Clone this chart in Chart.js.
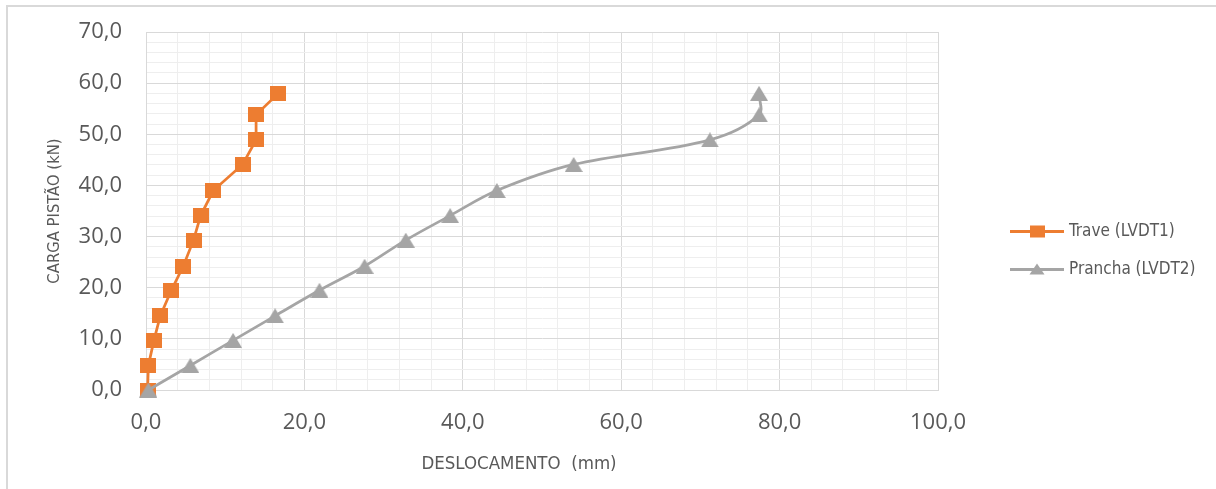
<!DOCTYPE html>
<html>
<head>
<meta charset="utf-8">
<script src="https://cdn.jsdelivr.net/npm/chart.js@4.4.1/dist/chart.umd.min.js"></script>
<style>
  html, body { margin: 0; padding: 0; background: #fff; overflow: hidden; }
  #wrap { position: relative; width: 1216px; height: 489px; overflow: hidden; }
  #wrap canvas { position: absolute; left: 0; top: 0; }
  #frame { position: absolute; left: 6px; top: 5px; width: 1240px; height: 520px;
           border: 2px solid #d9d9d9; box-sizing: border-box; pointer-events: none; }
</style>
</head>
<body>
<div id="wrap">
  <canvas id="grafico" width="1216" height="489"></canvas>
  <div id="frame"></div>
</div>
<script>
// Load steps applied by the piston (kN), shared by both LVDT readings
const cargas = [0.0, 4.8, 9.7, 14.5, 19.5, 24.2, 29.3, 34.1, 39.0, 44.1, 48.9, 53.8, 58.0];
// Displacement of the beam (LVDT1), mm
const traveDesloc = [0.2, 0.3, 1.0, 1.8, 3.2, 4.7, 6.0, 6.9, 8.5, 12.2, 13.9, 13.9, 16.7];
// Displacement of the plank (LVDT2), mm
const pranchaDesloc = [0.3, 5.6, 11.0, 16.3, 21.9, 27.6, 32.8, 38.4, 44.3, 54.0, 71.2, 77.4, 77.4];

const seriesNames = ['Trave (LVDT1)', 'Prancha (LVDT2)'];
const xTickLabels = ['0,0', '20,0', '40,0', '60,0', '80,0', '100,0'];
const yTickLabels = ['0,0', '10,0', '20,0', '30,0', '40,0', '50,0', '60,0', '70,0'];
const xTitle = 'DESLOCAMENTO  (mm)';
const yTitle = 'CARGA PISTÃO (kN)';

const COR_TRAVE = '#ED7D31';
const COR_PRANCHA = '#A5A5A5';
const TEXTO = '#595959';
const GRADE_MAIOR = '#d9d9d9';
const GRADE_MENOR = '#eeeeee';
const FONTE_TITULO = '"Liberation Sans Narrow", "DejaVu Sans Condensed", sans-serif';

// Marker sprites, centred on their bounding box
function marcador(tipo, cor, w, h) {
  const c = document.createElement('canvas');
  c.width = w; c.height = h;
  const g = c.getContext('2d');
  g.fillStyle = cor;
  if (tipo === 'quadrado') {
    g.fillRect(0, 0, w, h);
  } else {
    g.beginPath();
    g.moveTo(w / 2, 0);
    g.lineTo(w, h);
    g.lineTo(0, h);
    g.closePath();
    g.fill();
  }
  return c;
}

const pontosTrave = cargas.map((y, i) => ({ x: traveDesloc[i], y }));
const pontosPrancha = cargas.map((y, i) => ({ x: pranchaDesloc[i], y }));

// Axis titles and the legend at the right of the plot
const textos = {
  id: 'textos',
  afterDraw(chart) {
    const { ctx, chartArea } = chart;
    ctx.save();
    ctx.fillStyle = TEXTO;
    ctx.textBaseline = 'middle';
    ctx.textAlign = 'center';
    ctx.font = '18.5px ' + FONTE_TITULO;
    ctx.fillText(xTitle, (chartArea.left + chartArea.right) / 2 - 23, 464);
    ctx.save();
    ctx.translate(55, (chartArea.top + chartArea.bottom) / 2);
    ctx.rotate(-Math.PI / 2);
    ctx.font = '16.5px ' + FONTE_TITULO;
    ctx.fillText(yTitle, 0, 0);
    ctx.restore();

    const linhas = [231.5, 269.5];
    const tipos = ['quadrado', 'triangulo'];
    chart.data.datasets.forEach((ds, i) => {
      const y = linhas[i];
      ctx.strokeStyle = ds.borderColor;
      ctx.lineWidth = 3;
      ctx.beginPath();
      ctx.moveTo(1010, y);
      ctx.lineTo(1064, y);
      ctx.stroke();
      ctx.fillStyle = ds.borderColor;
      if (tipos[i] === 'quadrado') {
        ctx.fillRect(1030, y - 6, 15, 12);
      } else {
        ctx.beginPath();
        ctx.moveTo(1037, y - 6);
        ctx.lineTo(1044.5, y + 5);
        ctx.lineTo(1029.5, y + 5);
        ctx.closePath();
        ctx.fill();
      }
      ctx.fillStyle = TEXTO;
      ctx.textAlign = 'left';
      ctx.font = '17px ' + FONTE_TITULO;
      ctx.fillText(ds.label, 1069, y);
    });
    ctx.restore();
  }
};

new Chart(document.getElementById('grafico'), {
  type: 'scatter',
  data: {
    datasets: [
      {
        label: seriesNames[0],
        data: pontosTrave,
        showLine: true,
        tension: 0,
        clip: false,
        borderColor: COR_TRAVE,
        backgroundColor: COR_TRAVE,
        borderWidth: 2.75,
        pointStyle: marcador('quadrado', COR_TRAVE, 16, 15),
        order: 2
      },
      {
        label: seriesNames[1],
        data: pontosPrancha,
        showLine: true,
        tension: 0.35,
        clip: false,
        borderColor: COR_PRANCHA,
        backgroundColor: COR_PRANCHA,
        borderWidth: 2.75,
        pointStyle: marcador('triangulo', COR_PRANCHA, 18, 15),
        order: 1
      }
    ]
  },
  options: {
    responsive: false,
    animation: false,
    devicePixelRatio: 1,
    events: [],
    layout: { padding: { left: 0, top: 32, right: 278, bottom: 0 } },
    plugins: {
      legend: { display: false },
      tooltip: { enabled: false }
    },
    scales: {
      x: {
        type: 'linear',
        min: 0, max: 100,
        afterFit(scale) { scale.height = 99; },
        ticks: {
          stepSize: 4,
          autoSkip: false,
          maxRotation: 0,
          padding: 20,
          color: TEXTO,
          font: { family: '"Open Sans", sans-serif', size: 22 },
          callback: v => (v % 20 === 0 ? xTickLabels[v / 20] : '')
        },
        grid: {
          drawTicks: false,
          lineWidth: 1,
          color: c => (c.tick && c.tick.value % 20 === 0 ? GRADE_MAIOR : GRADE_MENOR)
        },
        border: { display: true, color: GRADE_MAIOR, width: 1 }
      },
      y: {
        type: 'linear',
        min: 0, max: 70,
        afterFit(scale) { scale.width = 146; },
        ticks: {
          stepSize: 2,
          autoSkip: false,
          padding: 24,
          color: TEXTO,
          font: { family: '"Open Sans", sans-serif', size: 22, lineHeight: 0.6 },
          callback: v => (v % 10 === 0 ? yTickLabels[v / 10] : '')
        },
        grid: {
          drawTicks: false,
          lineWidth: 1,
          color: c => (c.tick && c.tick.value % 10 === 0 ? GRADE_MAIOR : GRADE_MENOR)
        },
        border: { display: true, color: GRADE_MAIOR, width: 1 }
      }
    }
  },
  plugins: [textos]
});
</script>
</body>
</html>
